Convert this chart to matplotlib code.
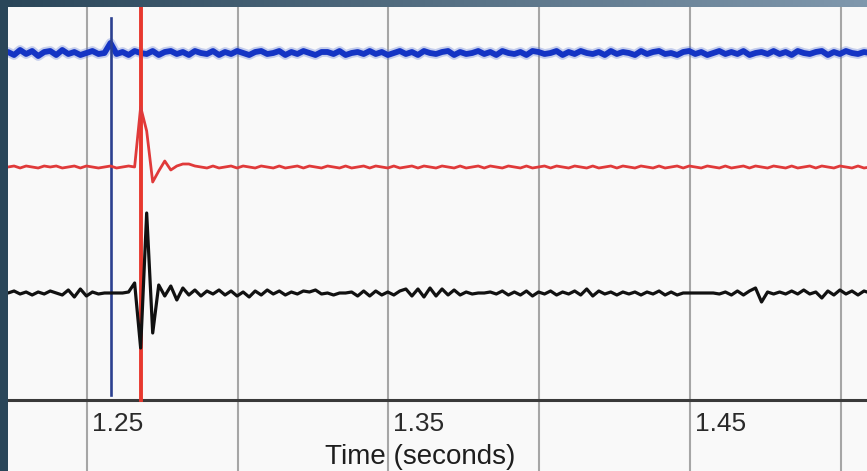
import numpy as np
import matplotlib
matplotlib.use('Agg')
import matplotlib.pyplot as plt
import matplotlib.transforms as mtransforms
from matplotlib.colors import to_rgb

# sampled traces (one sample every 2 ms), amplitudes in screen units
t_start = 1.2238
t_step = 0.002

black = [0, 2, -1, 1, -2, 1, -1, 2, 0, -2, 3, -4, 4, -3, 1, -1, 0, 0, 0, 0,
         1, 10, -55, 80, -40, 8, -3, 7, -7, 5, -2, 3, -3, 2, -1, 3, -2, 2, -3, 1,
         -4, 2, -2, 3, -1, 2, -2, 1, -1, 2, 1, 3, -1, 0, -2, 0, 0, 1, -3, 2,
         -3, 2, -2, 1, -2, 2, 4, -3, 4, -4, 5, -3, 4, -2, 3, -2, 1, -1, 0, 0,
         1, -1, 2, -2, 1, -2, 2, -3, 1, -1, 2, -2, 1, -1, 2, -2, 4, -3, 2, -1,
         1, -2, 1, -1, 1, -2, 1, -1, 2, -2, 1, -2, 0, 0, 0, 0, 0, 0, -1, 1,
         -2, 2, -2, 2, 5, -9, 1, -1, 1, -1, 2, -1, 3, -1, 1, -5, 2, -2, 3, -1,
         2, -2, 2, 0]

red = [0, 1, -1, 1, 0, -1, 1, 0, 1, -1, 0, 1, -1, 1, 0, -1, 0, 1, -1, 0,
       1, 0, 60, 36, -15, -4, 6, -3, 1, 3, 3, 1, 0, -1, 1, -1, 0, 1, -1, 1,
       0, -1, 1, 0, -1, 1, -1, 0, 1, -1, 1, 0, -1, 1, 0, -1, 1, -1, 0, 1,
       -1, 1, 0, -1, 1, -1, 0, 1, -1, 1, 0, -1, 1, 0, -1, 1, -1, 0, 1, -1,
       1, 0, -1, 1, 0, -1, 1, -1, 0, 1, -1, 1, 0, -1, 1, 0, -1, 1, -1, 0,
       1, -1, 1, 0, -1, 1, 0, -1, 1, -1, 0, 1, -1, 1, 0, -1, 1, 0, -1, 1,
       -1, 0, 1, -1, 1, 0, -1, 1, 0, -1, 1, -1, 0, 1, -1, 1, 0, -1, 1, 0,
       -1, 1, -1, 0]

blue = [1, -2, 3, -1, 2, -3, 1, 2, -2, 3, -1, 1, -2, 0, 2, -1, 0, 10, -1, 1,
        -2, 2, 0, -1, 2, -2, 1, 2, -1, 1, -2, 2, 0, -1, 2, -2, 1, -1, 2, 0,
        -2, 1, 2, -1, 0, 2, -2, 1, -1, 2, 0, -2, 1, 1, -1, 2, -2, 0, 1, -1,
        2, -1, 1, -2, 0, 2, -1, 1, -2, 2, 0, -1, 1, 2, -2, 1, -1, 0, 2, -1,
        1, -2, 2, 0, -1, 1, -2, 2, 1, -1, 0, 2, -2, 1, -1, 2, 0, -1, 1, -2,
        2, -1, 1, 0, -2, 2, -1, 1, 2, -1, 0, -2, 1, 2, -1, 1, -2, 0, 2, -1,
        1, -1, 2, -2, 0, 1, -1, 2, -1, 1, -2, 2, 0, -1, 1, 2, -2, 1, -1, 2,
        0, -1, 1, 0]

blue_onset = 1.258
red_onset = 1.268

grid_ticks = [1.25, 1.30, 1.35, 1.40, 1.45, 1.50]
label_ticks = ['1.25', '1.35', '1.45']
xlabel = 'Time (seconds)'

t = t_start + t_step * np.arange(len(black))

# baselines of the three channels and the axis line (screen units from bottom)
blue_base, red_base, black_base, axis_y = 418, 304, 178, 71

fig = plt.figure(figsize=(8.67, 4.71), dpi=100)

# slide background
bg = fig.add_axes([0, 0, 1, 1])
xx, yy = np.meshgrid(np.linspace(0, 1, 200), np.linspace(0, 1, 100))
w = np.clip(xx * (0.4 + 0.6 * yy), 0, 1)[..., None]
dark = np.array(to_rgb('#2a4659'))
light = np.array(to_rgb('#8098ad'))
bg.imshow(dark * (1 - w) + light * w, aspect='auto', extent=(0, 1, 0, 1), origin='lower')
bg.axis('off')

ax = fig.add_axes([8 / 867, 0, 859 / 867, 464 / 471])
ax.set_facecolor('#f9f9f9')
ax.set_xlim(1.22379, 1.50879)
ax.set_ylim(0, 464)
for s in ax.spines.values():
    s.set_visible(False)
ax.set_xticks(grid_ticks)
ax.set_yticks([])
ax.tick_params(length=0, labelbottom=False)
ax.grid(axis='x', color='#a6a6a6', lw=1.5, zorder=1)

ax.axhline(axis_y, color='#3a3a3a', lw=2.2, zorder=2)

kw = dict(solid_joinstyle='round', solid_capstyle='round')
ax.plot(t, blue_base + np.array(blue), color='#4a68d0', lw=7, alpha=0.3, zorder=3, **kw)
ax.plot(t, blue_base + np.array(blue), color='#1434c4', lw=4.2, zorder=3, **kw)

ax.plot([blue_onset, blue_onset], [76, 453], color='#2c4090', lw=1.9, zorder=4)
ax.plot([red_onset, red_onset], [axis_y, 464], color='#e8382e', lw=2.8, zorder=4)

ax.plot(t, red_base + np.array(red), color='#e03a3a', lw=2.0, zorder=5, **kw)
ax.plot(t, black_base + np.array(black), color='#111111', lw=2.3, zorder=6, **kw)

lbl_tr = mtransforms.offset_copy(ax.transData, fig=fig, x=5, y=0, units='dots')
for lbl in label_ticks:
    ax.text(float(lbl), 59, lbl, transform=lbl_tr, ha='left', va='top',
            fontsize=19, family='Liberation Sans', color='#2a2a2a')

ax.text(0.48, 27, xlabel,
        transform=mtransforms.blended_transform_factory(ax.transAxes, ax.transData),
        ha='center', va='top', fontsize=20, family='Liberation Sans', color='#1e1e1e')

fig.savefig('out.png', dpi=100)
